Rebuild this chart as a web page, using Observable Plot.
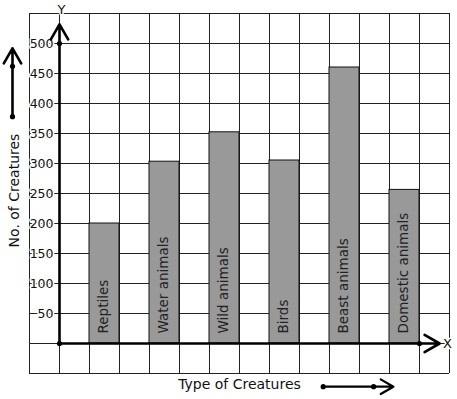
<!DOCTYPE html>
<html>
<head>
<meta charset="utf-8">
<script src="https://cdn.jsdelivr.net/npm/d3@7"></script>
<script src="https://cdn.jsdelivr.net/npm/@observablehq/plot@0.6"></script>
<style>
  html, body { margin: 0; padding: 0; background: #fff; }
  #chart svg { display: block; }
</style>
</head>
<body>
<div id="chart"></div>
<script>
// ---- data ----
const categories = ["Reptiles", "Water animals", "Wild animals", "Birds", "Beast animals", "Domestic animals"];
const values = [200, 303, 352, 305, 460, 256];
const yTicks = [50, 100, 150, 200, 250, 300, 350, 400, 450, 500];
const yTitle = "No. of Creatures";
const xTitle = "Type of Creatures";

// ---- derived table ----
const rows = categories.map((name, i) => ({name, value: values[i], col: 2 + 2 * i}));
const gridCols = d3.range(0, 15);           // grid columns in x-units
const gridRows = d3.range(-50, 551, 50);     // grid rows in y-units
const lastCol = rows[rows.length - 1].col + 1;

const font = "DejaVu Sans, Verdana, sans-serif";

const chart = Plot.plot({
  width: 457,
  height: 399,
  marginLeft: 29,
  marginRight: 8,
  marginTop: 13,
  marginBottom: 26,
  style: {fontFamily: font, background: "white", overflow: "visible"},
  x: {domain: [0, 14], axis: null},
  y: {domain: [-50, 550], axis: null},
  marks: [
    // grid
    Plot.ruleX(gridCols, {x: d => d, y1: -50, y2: 550, stroke: "#222", strokeWidth: 1, strokeOpacity: 1}),
    Plot.ruleY(gridRows, {y: d => d, x1: 0, x2: 14, stroke: "#222", strokeWidth: 1, strokeOpacity: 1}),
    // bars
    Plot.rectY(rows, {x1: d => d.col, x2: d => d.col + 1, y1: 0, y2: "value", fill: "#999999", stroke: "#111", strokeWidth: 1}),
    // bar labels
    Plot.text(rows, {x: d => d.col + 0.5, y: 0, dy: -10, dx: -1, text: "name", rotate: -90, textAnchor: "start",
      fontSize: 13.5, fill: "#222", fontFamily: font}),
    // y tick labels with white halo
    Plot.text(yTicks, {x: 1, y: d => d, text: d => String(d), textAnchor: "end", dx: -6,
      fontSize: 12.5, fill: "#111", stroke: "white", strokeWidth: 3, fontFamily: font}),
    // axes with arrows
    Plot.arrow([{x1: 1, y1: 0, x2: 1, y2: 532}], {x1: "x1", y1: "y1", x2: "x2", y2: "y2",
      stroke: "black", strokeWidth: 2.6, headLength: 10, headAngle: 60}),
    Plot.arrow([{x1: 1, y1: 0, x2: 13.67, y2: 0}], {x1: "x1", y1: "y1", x2: "x2", y2: "y2",
      stroke: "black", strokeWidth: 2.6, headLength: 10, headAngle: 60}),
    Plot.dot([{x: 1, y: 0}, {x: 1, y: 500}, {x: lastCol, y: 0}], {x: "x", y: "y", r: 2.6, fill: "black", stroke: null}),
    // axis letters
    Plot.text(["Y"], {x: 1, y: 550, dx: 2, dy: -4, text: d => d, fontSize: 13, fill: "#111", stroke: "white", strokeWidth: 3, fontFamily: font}),
    Plot.text(["X"], {x: 14, y: 0, dx: -2, text: d => d, fontSize: 13, fill: "#111", stroke: "white", strokeWidth: 3, fontFamily: font}),
    // y title and decorative arrow
    Plot.text([yTitle], {frameAnchor: "left", textAnchor: "middle", lineAnchor: "middle", dx: -15, dy: -3, rotate: -90,
      text: d => d, fontSize: 14, fill: "#111", fontFamily: font}),
    Plot.arrow([{x1: -0.567, y1: 378, x2: -0.567, y2: 492}], {x1: "x1", y1: "y1", x2: "x2", y2: "y2",
      stroke: "black", strokeWidth: 2.6, headLength: 10, headAngle: 60}),
    Plot.dot([{x: -0.567, y: 378}, {x: -0.567, y: 462}], {x: "x", y: "y", r: 2.6, fill: "black", stroke: null}),
    // x title and decorative arrow
    Plot.text([xTitle], {x: 7, frameAnchor: "bottom", lineAnchor: "middle", dy: 11, text: d => d, fontSize: 14, fill: "#111", fontFamily: font}),
    Plot.arrow([{x1: 9.79, y1: -72, x2: 12.13, y2: -72}], {x1: "x1", y1: "y1", x2: "x2", y2: "y2",
      stroke: "black", strokeWidth: 2.2, headLength: 10, headAngle: 60}),
    Plot.dot([{x: 9.79, y: -72}, {x: 11.47, y: -72}], {x: "x", y: "y", r: 2.6, fill: "black", stroke: null})
  ]
});
document.getElementById("chart").appendChild(chart);
</script>
</body>
</html>
